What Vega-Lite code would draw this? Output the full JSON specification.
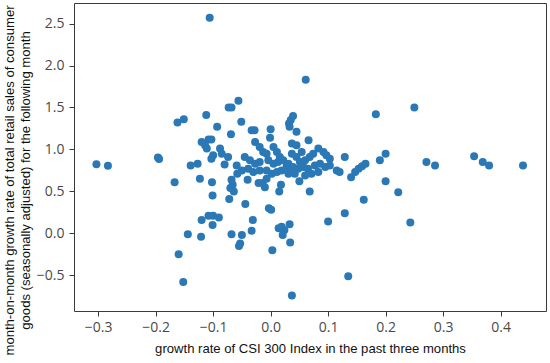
{
  "$schema": "https://vega.github.io/schema/vega-lite/v6.json",
  "width": 472,
  "height": 308,
  "autosize": {"type": "none"},
  "padding": {"left": 74, "top": 3, "right": 4, "bottom": 52},
  "background": "white",
  "config": {"view": {"stroke": "#3a3a3a", "strokeWidth": 1}},
  "data": {"values": [
    {"x": -0.303, "y": 0.825}, {"x": -0.283, "y": 0.806}, {"x": -0.196, "y": 0.905}, {"x": -0.194, "y": 0.885},
    {"x": -0.106, "y": 2.57}, {"x": -0.056, "y": 1.58}, {"x": -0.073, "y": 1.50}, {"x": -0.068, "y": 1.50},
    {"x": -0.112, "y": 1.41}, {"x": -0.162, "y": 1.32}, {"x": -0.151, "y": 1.36}, {"x": -0.051, "y": 1.33},
    {"x": -0.093, "y": 1.27}, {"x": -0.069, "y": 1.18}, {"x": -0.108, "y": 1.12}, {"x": -0.103, "y": 1.12},
    {"x": -0.120, "y": 1.09}, {"x": -0.114, "y": 1.05}, {"x": -0.111, "y": 1.01}, {"x": -0.088, "y": 1.01},
    {"x": -0.085, "y": 0.95}, {"x": -0.100, "y": 0.93}, {"x": -0.103, "y": 0.89}, {"x": -0.074, "y": 0.91},
    {"x": -0.080, "y": 0.82}, {"x": -0.139, "y": 0.81}, {"x": -0.127, "y": 0.83}, {"x": -0.167, "y": 0.61},
    {"x": -0.123, "y": 0.65}, {"x": -0.102, "y": 0.61}, {"x": -0.101, "y": 0.45}, {"x": -0.072, "y": 0.41},
    {"x": -0.044, "y": 0.35}, {"x": -0.068, "y": 0.64}, {"x": -0.066, "y": 0.58}, {"x": -0.064, "y": 0.50},
    {"x": -0.070, "y": 0.54}, {"x": -0.058, "y": 0.71}, {"x": -0.050, "y": 0.75}, {"x": -0.059, "y": 0.81},
    {"x": -0.045, "y": 0.91}, {"x": -0.040, "y": 0.64}, {"x": -0.120, "y": 0.16}, {"x": -0.108, "y": 0.21},
    {"x": -0.100, "y": 0.21}, {"x": -0.090, "y": 0.19}, {"x": -0.101, "y": 0.10}, {"x": -0.144, "y": -0.01},
    {"x": -0.121, "y": -0.04}, {"x": -0.160, "y": -0.25}, {"x": -0.152, "y": -0.58}, {"x": -0.068, "y": -0.01},
    {"x": -0.050, "y": -0.02}, {"x": -0.053, "y": -0.12}, {"x": -0.055, "y": -0.15},
    {"x": -0.033, "y": 1.23}, {"x": -0.028, "y": 1.23}, {"x": 0.000, "y": 1.24}, {"x": -0.001, "y": 1.14},
    {"x": -0.027, "y": 1.09}, {"x": -0.019, "y": 1.03}, {"x": -0.013, "y": 0.97}, {"x": -0.007, "y": 0.95},
    {"x": 0.005, "y": 1.03}, {"x": 0.011, "y": 0.97}, {"x": 0.016, "y": 0.91}, {"x": -0.036, "y": 0.87},
    {"x": -0.027, "y": 0.83}, {"x": -0.019, "y": 0.85}, {"x": -0.004, "y": 0.87}, {"x": 0.005, "y": 0.83},
    {"x": 0.013, "y": 0.85}, {"x": 0.022, "y": 0.87}, {"x": 0.028, "y": 0.81}, {"x": -0.039, "y": 0.77},
    {"x": -0.030, "y": 0.73}, {"x": -0.019, "y": 0.75}, {"x": -0.007, "y": 0.75}, {"x": 0.002, "y": 0.71},
    {"x": 0.011, "y": 0.73}, {"x": 0.019, "y": 0.75}, {"x": 0.031, "y": 0.71}, {"x": -0.021, "y": 0.60},
    {"x": -0.014, "y": 0.60}, {"x": -0.010, "y": 0.55}, {"x": -0.007, "y": 0.65}, {"x": 0.018, "y": 0.58},
    {"x": 0.015, "y": 0.50}, {"x": -0.003, "y": 0.30}, {"x": 0.001, "y": 0.28}, {"x": -0.031, "y": 0.16},
    {"x": -0.033, "y": 0.03}, {"x": 0.003, "y": -0.20}, {"x": 0.014, "y": 0.06}, {"x": 0.019, "y": 0.08},
    {"x": 0.024, "y": 0.04}, {"x": 0.021, "y": -0.02}, {"x": 0.033, "y": 0.11}, {"x": 0.034, "y": -0.11},
    {"x": 0.037, "y": -0.74}, {"x": 0.039, "y": 1.40}, {"x": 0.032, "y": 1.31}, {"x": 0.033, "y": 1.27},
    {"x": 0.035, "y": 1.35}, {"x": 0.045, "y": 1.21}, {"x": 0.037, "y": 1.07}, {"x": 0.061, "y": 1.83},
    {"x": 0.050, "y": 0.62}, {"x": 0.068, "y": 0.50}, {"x": 0.066, "y": 1.11}, {"x": 0.045, "y": 1.05},
    {"x": 0.054, "y": 0.97}, {"x": 0.037, "y": 0.95}, {"x": 0.045, "y": 0.91}, {"x": 0.051, "y": 0.85},
    {"x": 0.060, "y": 0.87}, {"x": 0.068, "y": 0.91}, {"x": 0.031, "y": 0.83}, {"x": 0.039, "y": 0.79},
    {"x": 0.048, "y": 0.77}, {"x": 0.057, "y": 0.79}, {"x": 0.065, "y": 0.77}, {"x": 0.031, "y": 0.73},
    {"x": 0.042, "y": 0.71}, {"x": 0.060, "y": 0.69},
    {"x": 0.074, "y": 0.95}, {"x": 0.083, "y": 1.01}, {"x": 0.092, "y": 0.97}, {"x": 0.097, "y": 0.93},
    {"x": 0.103, "y": 0.89}, {"x": 0.077, "y": 0.81}, {"x": 0.086, "y": 0.83}, {"x": 0.095, "y": 0.79},
    {"x": 0.103, "y": 0.81}, {"x": 0.071, "y": 0.71}, {"x": 0.083, "y": 0.73}, {"x": 0.115, "y": 0.75},
    {"x": 0.120, "y": 0.73}, {"x": 0.129, "y": 0.91}, {"x": 0.135, "y": -0.51}, {"x": 0.100, "y": 0.14},
    {"x": 0.129, "y": 0.24}, {"x": 0.243, "y": 0.13}, {"x": 0.162, "y": 0.40}, {"x": 0.222, "y": 0.49},
    {"x": 0.200, "y": 0.62}, {"x": 0.140, "y": 0.67}, {"x": 0.147, "y": 0.73}, {"x": 0.153, "y": 0.77},
    {"x": 0.159, "y": 0.80}, {"x": 0.165, "y": 0.83}, {"x": 0.190, "y": 0.87}, {"x": 0.200, "y": 0.95},
    {"x": 0.183, "y": 1.42}, {"x": 0.250, "y": 1.50}, {"x": 0.271, "y": 0.85}, {"x": 0.286, "y": 0.81},
    {"x": 0.354, "y": 0.92}, {"x": 0.369, "y": 0.85}, {"x": 0.380, "y": 0.81}, {"x": 0.439, "y": 0.81}
  ]},
  "mark": {"type": "circle", "size": 64, "color": "#2a78b6", "opacity": 1},
  "encoding": {
    "x": {
      "field": "x", "type": "quantitative",
      "scale": {"domain": [-0.342, 0.479], "nice": false, "zero": false},
      "axis": {
        "values": [-0.3, -0.2, -0.1, 0, 0.1, 0.2, 0.3, 0.4], "format": ".1f",
        "grid": false, "domain": false, "tickColor": "#3a3a3a", "tickSize": 5,
        "labelFont": "Open Sans", "labelFontSize": 14, "labelColor": "#4a4a4a", "labelPadding": 4,
        "title": "growth rate of CSI 300 Index in the past three months",
        "titleFont": "Liberation Sans", "titleFontSize": 13.1, "titleFontWeight": "normal", "titleColor": "#111111",
        "titleBaseline": "middle", "titleY": 37
      }
    },
    "y": {
      "field": "y", "type": "quantitative",
      "scale": {"domain": [-0.925, 2.745], "nice": false, "zero": false},
      "axis": {
        "values": [-0.5, 0, 0.5, 1, 1.5, 2, 2.5], "format": ".1f",
        "grid": false, "domain": false, "tickColor": "#3a3a3a", "tickSize": 5,
        "labelFont": "Open Sans", "labelFontSize": 14, "labelColor": "#4a4a4a", "labelPadding": 5,
        "title": ["month-on-month growth rate of total retail sales of consumer", "goods (seasonally adjusted) for the following month"],
        "titleFont": "Liberation Sans", "titleFontSize": 13.1, "titleFontWeight": "normal", "titleColor": "#111111",
        "titleLineHeight": 16, "titleAngle": -90, "titleAlign": "center", "titleBaseline": "top",
        "titleX": -71, "titleY": 177
      }
    }
  }
}
